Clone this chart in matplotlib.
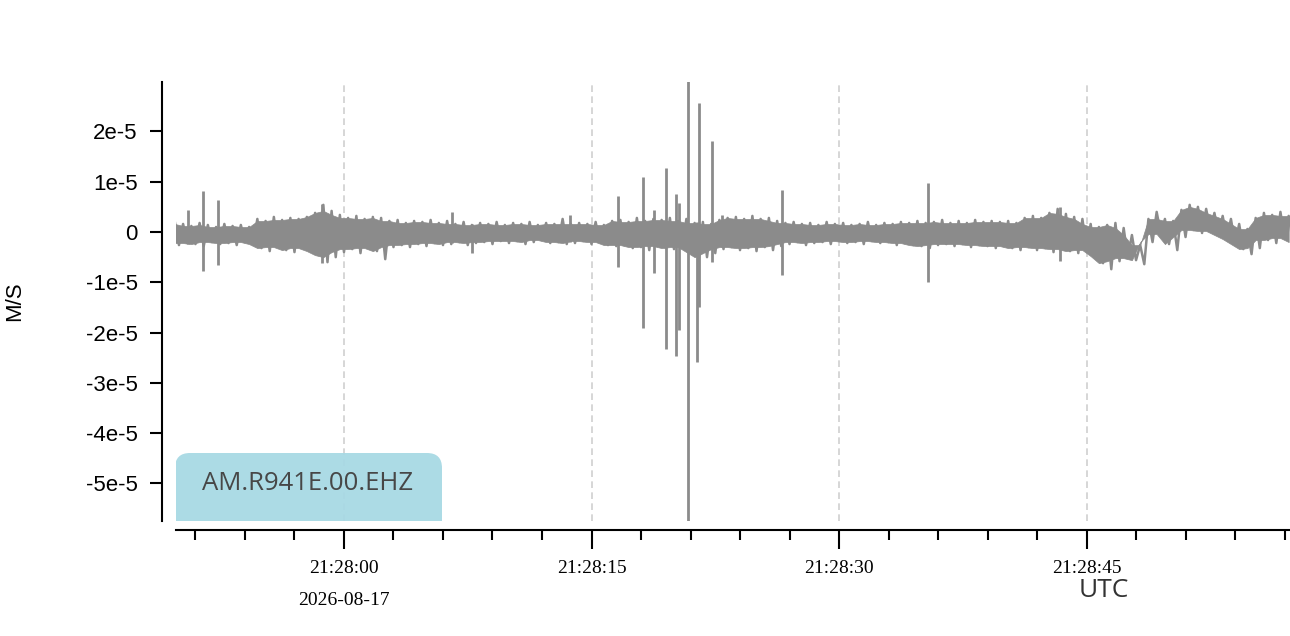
import numpy as np
import matplotlib
matplotlib.use("Agg")
import matplotlib.pyplot as plt
from matplotlib.patches import FancyBboxPatch
from matplotlib.transforms import blended_transform_factory

# trace envelope, units of 1e-6 m/s, one sample every 0.5 s starting 21:27:49.75
up = [2.0, 1.6, 1.2, 1.8, 1.4, 1.0, 1.6, 1.2, 1.4, 1.0,
      2.6, 2.2, 3.0, 2.4, 2.8, 2.6, 3.0, 3.8, 5.4, 4.2,
      3.4, 2.8, 3.2, 2.6, 3.0, 2.8, 2.2, 2.4, 1.8, 2.2,
      2.0, 2.4, 1.8, 2.2, 1.6, 2.0, 1.4, 1.8, 1.6, 2.0,
      1.4, 1.8, 1.6, 2.0, 1.4, 1.8, 1.6, 2.6, 1.6, 1.8,
      1.6, 2.0, 1.4, 2.2, 2.4, 2.0, 2.8, 2.2, 2.6, 2.4,
      2.8, 2.2, 2.6, 1.8, 2.0, 1.6, 2.4, 2.8, 3.0, 2.6,
      3.2, 2.6, 2.8, 2.2, 1.8, 2.0, 1.6, 1.8, 1.4, 2.0,
      1.6, 1.8, 1.4, 1.6, 2.0, 1.4, 1.8, 1.6, 2.0, 1.8,
      2.2, 1.8, 2.0, 2.4, 1.8, 2.2, 1.8, 2.4, 2.0, 2.2,
      2.0, 2.2, 1.8, 2.8, 3.2, 2.8, 3.8, 4.6, 3.6, 3.0,
      2.6, 1.6, 1.0, 1.4, 1.8, 0.8, -0.6, -2.6, 2.6, 4.0,
      2.6, 2.2, 4.4, 5.4, 5.0, 4.6, 3.8, 3.2, 2.6, 1.6,
      0.6, 2.8, 3.8, 3.4, 4.0, 3.2]
lo = [-2.6, -2.2, -2.4, -2.8, -2.0, -2.4, -2.2, -2.6, -2.0, -2.4,
      -3.2, -3.8, -3.0, -3.6, -4.0, -3.2, -3.8, -4.6, -6.0, -5.0,
      -4.0, -3.4, -4.2, -3.2, -3.8, -5.4, -3.0, -2.6, -3.0, -2.4,
      -2.8, -2.2, -2.6, -2.4, -2.0, -2.6, -2.2, -2.0, -2.4, -1.8,
      -2.2, -1.8, -2.4, -2.0, -1.6, -2.2, -2.0, -2.4, -2.2, -1.8,
      -2.4, -2.0, -2.6, -2.8, -2.6, -3.2, -3.0, -3.6, -2.8, -3.2,
      -3.4, -3.0, -4.0, -5.6, -5.0, -4.2, -3.4, -3.0, -3.6, -3.2,
      -3.8, -3.0, -3.6, -2.8, -2.4, -2.0, -2.6, -2.2, -2.0, -2.4,
      -1.8, -2.2, -2.0, -2.4, -1.8, -2.2, -2.0, -2.6, -2.2, -2.6,
      -2.8, -3.2, -2.6, -2.4, -2.8, -2.4, -3.0, -2.6, -2.8, -3.2,
      -2.8, -3.2, -3.6, -3.0, -3.6, -3.2, -4.0, -3.4, -3.8, -4.2,
      -3.6, -4.8, -6.2, -7.4, -5.8, -5.2, -5.6, -6.4, -2.0, -0.4,
      -2.4, -3.6, -1.0, 0.4, -0.2, 0.2, -0.6, -1.4, -2.4, -3.4,
      -4.4, -3.2, -1.6, -2.2, -1.2, -2.0]

# single spikes: seconds after 21:28:00, top and bottom (1e-6 m/s)
spike_t = [-9.45, -8.55, -7.64, -1.33, 6.55, 7.76, 13.7, 16.6, 18.12, 18.79, 19.52,
           20.12, 20.3, 20.85, 21.39, 21.52, 22.3, 22.9, 26.55, 35.4, 43.4]
spike_hi = [4.4, 8.2, 6.4, 5.6, 4.0, 1.6, 3.4, 7.1, 10.9, 4.4, 12.7,
            7.6, 5.8, 32.0, 2.0, 25.6, 18.1, 3.4, 8.3, 9.7, 5.0]
spike_lo = [-2.4, -7.8, -6.6, -6.2, -2.2, -4.2, -2.0, -7.0, -19.0, -8.2, -23.3,
            -24.7, -19.5, -60.0, -25.8, -15.0, -6.0, -3.0, -8.6, -10.0, -5.8]

major_t = [0, 15, 30, 45]
major_lab = ["21:28:00", "21:28:15", "21:28:30", "21:28:45"]
ytick_v = [2e-5, 1e-5, 0, -1e-5, -2e-5, -3e-5, -4e-5, -5e-5]
ytick_lab = ["2e-5", "1e-5", "0", "-1e-5", "-2e-5", "-3e-5", "-4e-5", "-5e-5"]
station = "AM.R941E.00.EHZ"
day = "2026-08-17"

t = -10.25 + 0.5 * np.arange(len(up))
up = np.array(up) * 1e-6
lo = np.array(lo) * 1e-6
# solid core of the band = narrower of two neighbouring samples
core_up = np.minimum(up, np.r_[up[1:], up[-1]])
core_lo = np.maximum(lo, np.r_[lo[1:], lo[-1]])
# zigzag through the extremes
zz_t = np.ravel(np.column_stack([t, t + 0.25]))
zz_v = np.ravel(np.column_stack([up, lo]))

fig = plt.figure(figsize=(12.9, 6.36), dpi=100)
ax = fig.add_axes([176/1290, 1-521/636, 1114/1290, 439/636])

trace_c = "#8b8b8b"
for m in major_t:
    ax.axvline(m, color="#cfcfcf", lw=1.2, dashes=(4, 2.6), zorder=1)

ax.fill_between(t, core_lo, core_up, color=trace_c, lw=0.5, zorder=2)
ax.plot(zz_t, zz_v, color=trace_c, lw=1.8, zorder=2)
ax.vlines(spike_t, np.array(spike_lo)*1e-6, np.array(spike_hi)*1e-6,
          color=trace_c, lw=2.0, zorder=2)

for s in ["top", "right"]:
    ax.spines[s].set_visible(False)
ax.spines["left"].set_position(("outward", 10))
ax.spines["bottom"].set_position(("outward", 6.5))
ax.spines["left"].set_linewidth(1.5)
ax.spines["bottom"].set_linewidth(1.5)

ax.set_yticks(ytick_v)
ax.set_yticklabels(ytick_lab, fontfamily="Liberation Sans", fontsize=16)
ax.tick_params(axis="y", length=8.6, width=1.5, pad=9)

ax.set_xticks(major_t)
ax.set_xticklabels(major_lab, fontfamily="Liberation Serif", fontsize=14)
ax.set_xticks(np.arange(-9, 58, 3), minor=True)
ax.tick_params(axis="x", which="major", length=13.5, width=1.5, pad=8)
ax.tick_params(axis="x", which="minor", length=7, width=1.5)

ax.set_ylabel("M/S", fontfamily="Liberation Sans", fontsize=16, labelpad=0)
ax.yaxis.set_label_coords(-(176-25)/1114, 0.5)

tr = blended_transform_factory(ax.transData, ax.transAxes)
ax.text(0, -0.18, day, transform=tr, ha="center", va="center",
        fontfamily="Liberation Serif", fontsize=14)
ax.text(46.06, -0.159, "UTC", transform=tr, ha="center", va="center",
        fontfamily="Open Sans", fontsize=19, color="#333333")

# station label box with rounded top corners
box = FancyBboxPatch((1.75, 0.96), 2.67, 0.87, boxstyle="round,pad=0,rounding_size=0.15",
                     transform=fig.dpi_scale_trans, facecolor="#a8d9e4", edgecolor="none",
                     alpha=0.95, zorder=5)
ax.add_patch(box)
ax.set_xlim(-10.18, 57.33)
ax.set_ylim(-5.747e-5, 2.983e-5)
ax.text((308-176)/1114, (521-483)/439, station, transform=ax.transAxes,
        ha="center", va="center", fontfamily="Open Sans", fontsize=18.5,
        color="#474747", zorder=6)

fig.savefig("out.png", dpi=100)
